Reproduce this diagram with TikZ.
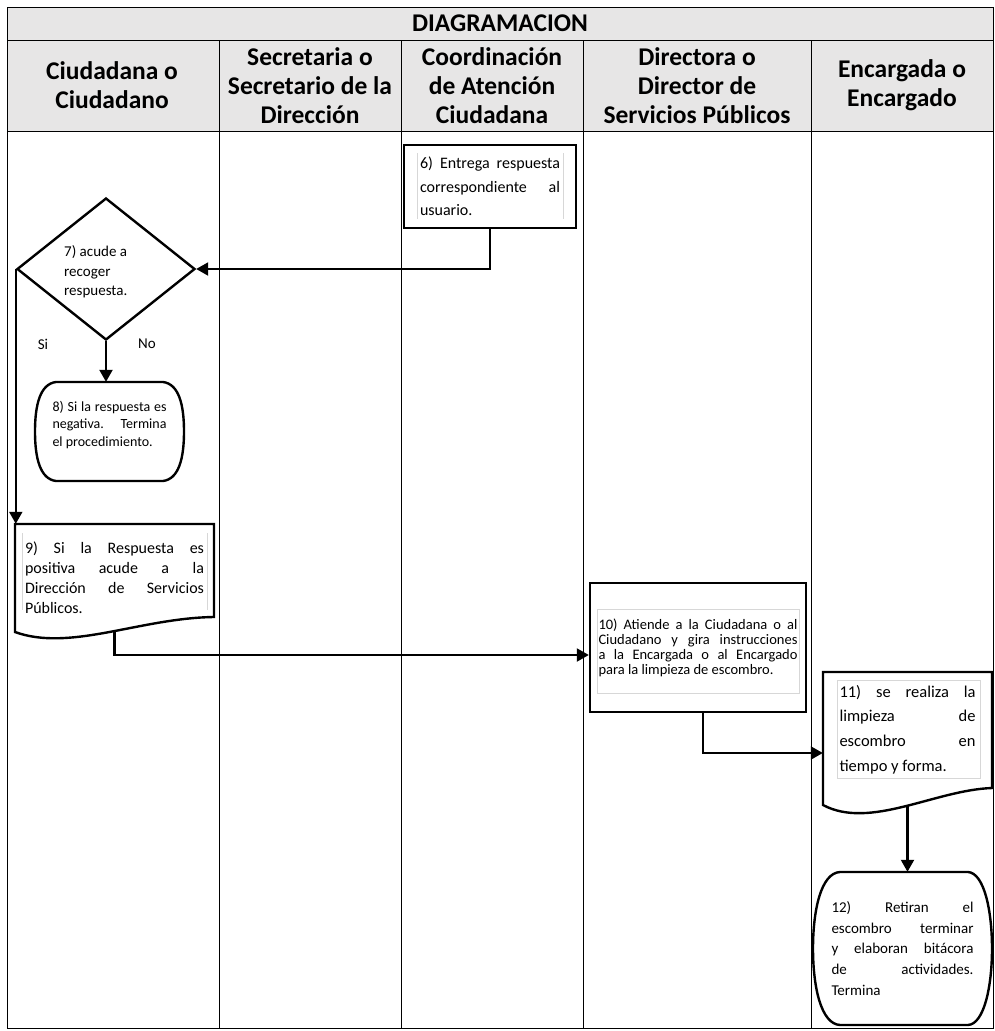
\documentclass[tikz,border=0pt]{standalone}
\usepackage{fontspec}
\setmainfont{Carlito}
\usetikzlibrary{arrows.meta,shapes.geometric,calc}

\definecolor{headgray}{RGB}{231,230,230}
\definecolor{framegray}{RGB}{215,215,215}

\tikzset{
  lane/.style={line width=0.9pt},
  outline/.style={line width=2.4pt, line join=miter},
  flow/.style={line width=2.1pt, -{Triangle[length=12pt,width=13pt]}},
  textframe/.style={draw=framegray, line width=0.6pt},
  head/.style={font=\bfseries\fontsize{25.5}{29}\selectfont, align=center, inner sep=0pt},
  body/.style={inner sep=0pt, align=justify},
}

\begin{document}
\begin{tikzpicture}[x=1pt,y=-1pt]
\useasboundingbox (0,0) rectangle (995,1031);

% header band and lane grid
\fill[headgray] (7,7) rectangle (993,131);
\draw[lane] (7,7) rectangle (993,1028);
\draw[lane] (7,40) -- (993,40);
\draw[lane] (7,131) -- (993,131);
\foreach \x in {219,401,583,811} \draw[lane] (\x,40) -- (\x,1028);

\node[head] (title) at (500,23.5) {DIAGRAMACION};
\node[head] (h1) at (112,85.5) {Ciudadana o\\Ciudadano};
\node[head] (h2) at (310,85.5) {Secretaria o\\Secretario de la\\Dirección};
\node[head] (h3) at (492,85.5) {Coordinación\\de Atención\\Ciudadana};
\node[head] (h4) at (697,85.5) {Directora o\\Director de\\Servicios Públicos};
\node[head] (h5) at (902,85.5) {Encargada o\\Encargado};

% 6) process box
\node[draw, outline, body, minimum width=172pt, minimum height=83pt, text width=140pt,
      font=\fontsize{16}{23.5}\selectfont] (n6) at (490,186.5)
  {6) Entrega respuesta\linebreak correspondiente al\linebreak usuario.};
\draw[textframe] (417,153) -- (417,219) (563,153) -- (563,219);

% 7) decision
\node[diamond, draw, outline, minimum width=178pt, minimum height=142pt, inner sep=0pt] (d7) at (106,269) {};
\node[align=left, inner sep=0pt, anchor=west, font=\fontsize{15}{19.5}\selectfont] (t7) at (64,272)
  {7) acude a\\recoger\\respuesta.};
\node[inner sep=0pt, font=\fontsize{15}{18}\selectfont] (si) at (43,344) {Si};
\node[inner sep=0pt, font=\fontsize{15}{18}\selectfont] (no) at (147,344) {No};

% 8) terminator
\node[minimum width=149pt, minimum height=99pt, inner sep=0pt] (n8) at (109.5,431.5) {};
\draw[outline] (56,382) -- (163,382) .. controls (179,384) and (184,405) .. (184,431.5)
  .. controls (184,458) and (179,479) .. (163,481) -- (56,481)
  .. controls (40,479) and (35,458) .. (35,431.5) .. controls (35,405) and (40,384) .. (56,382) -- cycle;
\node[body, text width=114pt, font=\fontsize{14}{17.5}\selectfont] (t8) at (109.5,425)
  {8) Si la respuesta es\linebreak negativa. Termina\linebreak el procedimiento.};

% 9) document
\node[body, minimum width=199pt, minimum height=108pt, text width=179pt,
      font=\fontsize{16}{20}\selectfont] (n9) at (114.5,578)
  {9) Si la Respuesta es\linebreak positiva acude a la\linebreak Dirección de Servicios\linebreak Públicos.};
\draw[outline] (15,524) -- (214,524) -- (214,617) .. controls (140,618) and (70,652) .. (15,632) -- cycle;
\draw[textframe] (22,533) -- (22,610) (207,533) -- (207,610);

% 10) process box
\node[draw, outline, body, minimum width=216pt, minimum height=129pt, text width=199pt,
      font=\fontsize{14.5}{15}\selectfont] (n10) at (698,647.5)
  {10) Atiende a la Ciudadana o al\linebreak Ciudadano y gira instrucciones\linebreak a la Encargada o al Encargado\linebreak para la limpieza de escombro.};
\draw[textframe] (597,609) rectangle (799,693);

% 11) document
\node[body, minimum width=169pt, minimum height=115pt, text width=136pt,
      font=\fontsize{16.5}{24.7}\selectfont] (n11) at (907.5,729.5)
  {11) se realiza la\linebreak limpieza de\linebreak escombro en\linebreak tiempo y forma.};
\draw[outline] (823,672) -- (992,672) -- (992,788) .. controls (935,790) and (870,830) .. (823,805) -- cycle;
\draw[textframe] (837,680) rectangle (980,778);

% 12) terminator
\node[body, minimum width=179pt, minimum height=153pt, text width=142pt,
      font=\fontsize{15}{20.8}\selectfont] (n12) at (902.5,948.5)
  {12) Retiran el\linebreak escombro terminar\linebreak y elaboran bitácora\linebreak de actividades.\linebreak Termina};
\draw[outline] (840,872) -- (968,872) .. controls (984,873) and (992,910) .. (992,948.5)
  .. controls (992,987) and (984,1024) .. (968,1025) -- (840,1025)
  .. controls (821,1024) and (813,987) .. (813,948.5) .. controls (813,910) and (821,873) .. (840,872) -- cycle;

% connectors
\coordinate (n10out) at ([xshift=5pt]n10.south);
\coordinate (n11in) at ([yshift=-23.5pt]n11.west);
\coordinate (n10in) at ([yshift=-7.5pt]n10.west);
\coordinate (n11out) at ([yshift=-19pt]n11.south);
\draw[flow] (n6.south) |- (d7.east);
\draw[flow] (d7.south) -- (d7.south |- n8.north);
\draw[flow] (d7.west) -- (d7.west |- n9.north);
\draw[flow] (n9.south) |- (n10in);
\draw[flow] (n10out) |- (n11in);
\draw[flow] (n11out) -- (n11out |- n12.north);
\end{tikzpicture}
\end{document}
